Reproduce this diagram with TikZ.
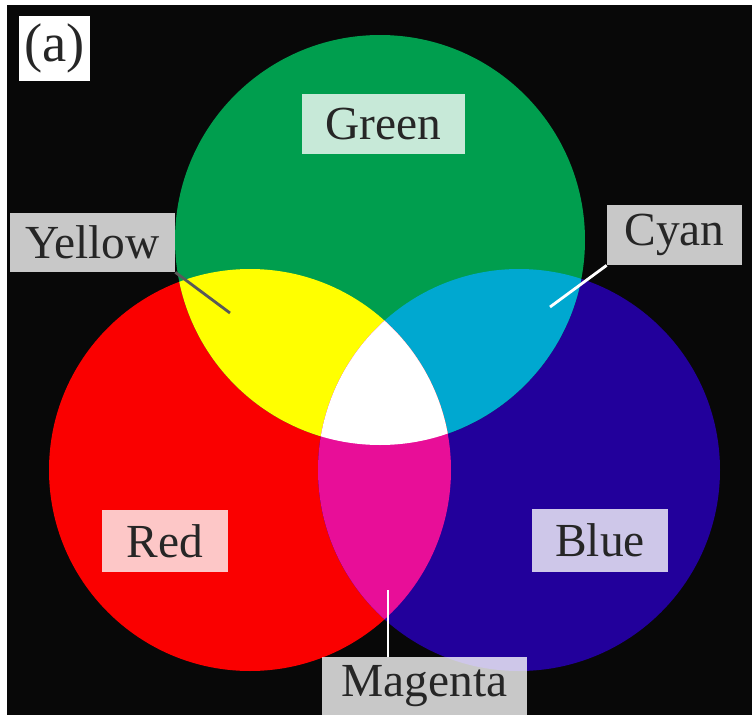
\documentclass[tikz,border=0pt]{standalone}
\usepackage{fontspec}
\setmainfont{Liberation Serif}
\usepackage{tikz}
\usetikzlibrary{calc}

\definecolor{cred}{RGB}{250,0,0}
\definecolor{cgreen}{RGB}{0,158,78}
\definecolor{cblue}{RGB}{34,0,155}
\definecolor{cyellow}{RGB}{255,255,0}
\definecolor{ccyan}{RGB}{0,168,208}
\definecolor{cmagenta}{RGB}{232,14,152}

\begin{document}
\begin{tikzpicture}[
  x=0.02cm, y=-0.02cm,
  namebox/.style={fill=white, fill opacity=0.78, text opacity=1, text=black!85, inner sep=0pt, font=\fontsize{27}{30}\selectfont},
  lead/.style={line width=1.6pt}
]
\useasboundingbox (0,0) rectangle (755,717);
\fill[white] (0,0) rectangle (755,717);
\fill[black!97] (7,5) rectangle (752,715);

% circle centres
\coordinate (rc) at (250,470);
\coordinate (bc) at (519,470);
\coordinate (gc) at (380,240);

\fill[cred] (rc) circle[radius=201];
\fill[cblue] (bc) circle[radius=201];
\fill[cgreen] (gc) circle[radius=205];
\begin{scope}
  \clip (gc) circle[radius=205];
  \fill[ccyan] (bc) circle[radius=201];
\end{scope}
\begin{scope}
  \clip (rc) circle[radius=201];
  \fill[cyellow] (gc) circle[radius=205];
  \fill[cmagenta] (bc) circle[radius=201];
  \clip (gc) circle[radius=205];
  \fill[white] (bc) circle[radius=201];
\end{scope}

% labels
\node[namebox, fill opacity=1, minimum width=1.42cm, minimum height=1.3cm, font=\fontsize{31}{33}\selectfont] (tag) at (54.5,48.5) {(a)};
\node[namebox, minimum width=3.26cm, minimum height=1.2cm] (greenbox) at (383.5,124) {Green};
\node[namebox, minimum width=3.3cm, minimum height=1.18cm] (yellowbox) at (92.5,242.5) {Yellow};
\node[namebox, minimum width=2.7cm, minimum height=1.2cm] (cyanbox) at (674.5,235) {Cyan};
\node[namebox, minimum width=2.52cm, minimum height=1.24cm] (redbox) at (165,541) {Red};
\node[namebox, minimum width=2.72cm, minimum height=1.26cm] (bluebox) at (600,540.5) {Blue};
\node[namebox, minimum width=4.1cm, minimum height=1.16cm] (magentabox) at (424.5,686) {Magenta};

% leaders
\coordinate (ytip) at (230,313);
\coordinate (ctip) at (550,307);
\coordinate (mtip) at (388,590);
\draw[lead, gray!70!black] (yellowbox.south east) -- (ytip);
\draw[lead, white] (cyanbox.south west) -- (ctip);
\draw[lead, white] (mtip) -- (mtip |- magentabox.north);
\end{tikzpicture}
\end{document}
